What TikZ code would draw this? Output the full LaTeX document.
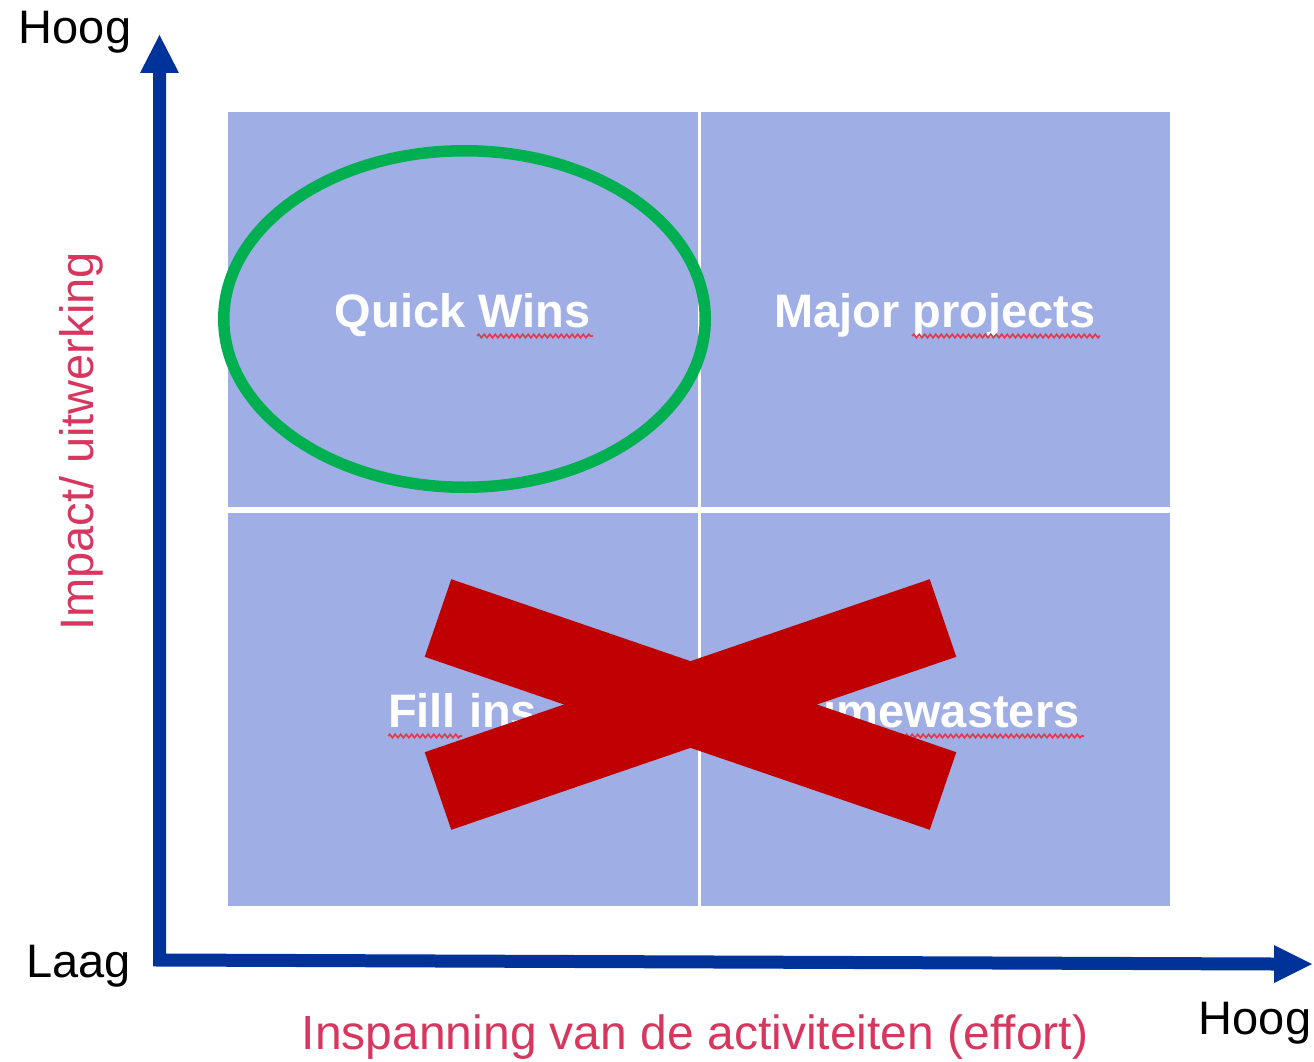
\documentclass[tikz,border=0pt]{standalone}
\usepackage{fontspec}
\setmainfont{Liberation Sans}
\usetikzlibrary{decorations.pathmorphing}
\definecolor{axisblue}{RGB}{0,51,153}
\definecolor{quadblue}{RGB}{159,174,229}
\definecolor{okgreen}{RGB}{0,176,80}
\definecolor{crossred}{RGB}{192,0,0}
\definecolor{labelpink}{RGB}{215,55,95}
\definecolor{spellred}{RGB}{225,60,80}
\begin{document}
\begin{tikzpicture}[x=1pt,y=-1pt,
  big/.style={font=\fontsize{47}{56}\selectfont, inner sep=0pt},
  quadtext/.style={big, text=white, font=\fontsize{47}{56}\selectfont\bfseries, anchor=base},
  axistext/.style={big, text=black, anchor=base},
  pinktext/.style={big, text=labelpink, anchor=base},
  spell/.style={draw=spellred, line width=1.7pt, decorate, decoration={snake, amplitude=1.7pt, segment length=5.5pt}},
  crossbar/.style={draw=crossred, line width=82pt, line cap=butt}]
\useasboundingbox (0,0) rectangle (1314,1062);
% quadrants
\fill[quadblue] (228,112) rectangle (1170,906);
\draw[white, line width=3pt] (699,112) -- (699,906);
\draw[white, line width=6pt] (228,510) -- (1170,510);
% axes
\coordinate (ytop) at (159.5,73);
\coordinate (origin) at (159.5,960);
\coordinate (xend) at (1274,964);
\draw[axisblue, line width=13pt, line join=miter] (ytop) -- (origin) -- (xend);
\fill[axisblue] (140,73) -- (179,73) -- (159.5,35) -- cycle;
\fill[axisblue] (1274,945) -- (1274,983) -- (1312,964) -- cycle;
% ellipse
\draw[okgreen, line width=11.5pt] (464.5,319) ellipse [x radius=240.75, y radius=168.25];
% quadrant labels
\node[quadtext] (qw) at (462.5,327) {Quick Wins};
\node[quadtext] (mp) at (935,327) {Major projects};
\node[quadtext] (fi) at (462.5,727) {Fill ins};
\node[quadtext] (tw) at (937.5,727) {Timewasters};
\draw[spell] (477,336) -- (593,336);
\draw[spell] (912,336) -- (1100,336);
\draw[spell] (388,736) -- (462,736);
\draw[spell] (795,736) -- (1084,736);
% cross
\coordinate (c1a) at (438,618);
\coordinate (c1b) at (943,791);
\coordinate (c2a) at (943,618);
\coordinate (c2b) at (438,791);
\draw[crossbar] (c1a) -- (c1b);
\draw[crossbar] (c2a) -- (c2b);
% axis labels
\node[axistext] (hoogy) at (75,44) {Hoog};
\node[axistext, anchor=base east] (laag) at (131,977) {Laag};
\node[axistext] (hoogx) at (1255,1034) {Hoog};
\node[pinktext, font=\fontsize{48}{56}\selectfont] (xlab) at (695,1049) {Inspanning van de activiteiten (effort)};
\node[pinktext, rotate=90] (ylab) at (93,441.5) {Impact/ uitwerking};
\end{tikzpicture}
\end{document}
